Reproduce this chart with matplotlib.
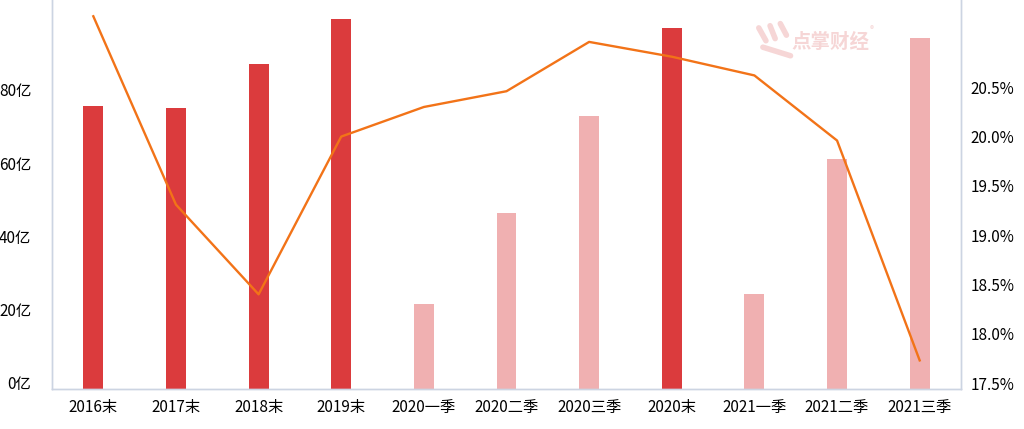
import matplotlib

matplotlib.use("Agg")
import matplotlib.pyplot as plt
from matplotlib.transforms import ScaledTranslation

plt.rcParams['font.family'] = ['Noto Sans CJK SC', 'DejaVu Sans']

categories = ['2016末', '2017末', '2018末', '2019末', '2020一季', '2020二季',
              '2020三季', '2020末', '2021一季', '2021二季', '2021三季']
amount = [77.2, 76.7, 88.7, 101.0, 23.2, 48.0, 74.5, 98.5, 25.9, 62.8, 95.8]  # 亿
is_year_end = [True, True, True, True, False, False, False, True, False, False, False]
ratio = [21.28, 19.37, 18.46, 20.06, 20.36, 20.52, 21.02, 20.87, 20.68, 20.02, 17.79]  # %

left_ticks = [0, 20, 40, 60, 80]
right_ticks = [17.5, 18.0, 18.5, 19.0, 19.5, 20.0, 20.5]

DARK = '#DB3B3D'
LIGHT = '#F0B0B1'
LINE = '#F27318'
SPINE = '#CCD4E2'
MARK = '#F6D6D6'

fig = plt.figure(figsize=(10.24, 4.29), dpi=100)
ax = fig.add_axes([52 / 1024, 40 / 429, 909 / 1024, 389 / 429])
x = list(range(len(categories)))
colors = [DARK if e else LIGHT for e in is_year_end]
ax.bar(x, amount, width=0.24, color=colors, zorder=2)
ax.set_xlim(-0.5, len(categories) - 0.5)
ax.set_ylim(0, 106.1)
ax.set_yticks(left_ticks)
ax.set_yticklabels([f'{v}亿' for v in left_ticks])
ax.set_xticks(x)
ax.set_xticklabels(categories)
ax.tick_params(axis='y', length=0, pad=15, labelsize=11)
ax.tick_params(axis='x', length=0, pad=7, labelsize=11)

ax2 = ax.twinx()
ax2.plot(x, ratio, color=LINE, linewidth=1.7, zorder=3)
ax2.set_ylim(17.5, 21.445)
ax2.set_yticks(right_ticks)
ax2.set_yticklabels([f'{v:.1f}%' for v in right_ticks])
ax2.tick_params(axis='y', length=0, pad=7, labelsize=11)

# labels sit a little above their gridline positions
shift = ScaledTranslation(0, 6 / 100, fig.dpi_scale_trans)
for lab in ax.get_yticklabels() + ax2.get_yticklabels():
    lab.set_transform(lab.get_transform() + shift)

for a in (ax, ax2):
    a.spines['top'].set_visible(False)
    for s in ('left', 'right', 'bottom'):
        a.spines[s].set_color(SPINE)
        a.spines[s].set_linewidth(1)

# watermark (hand icon roughly sketched as strokes)
for (x0, y0, x1, y1) in [(0.741, 0.935, 0.748, 0.905), (0.752, 0.94, 0.757, 0.91),
                         (0.762, 0.945, 0.768, 0.918), (0.745, 0.89, 0.772, 0.87)]:
    fig.add_artist(plt.Line2D([x0, x1], [y0, y1], transform=fig.transFigure,
                              color=MARK, linewidth=4, solid_capstyle='round', zorder=5))
fig.text(0.773, 0.90, '点掌财经', fontsize=14, fontweight='bold', color=MARK,
         ha='left', va='center', zorder=5)
fig.text(0.849, 0.93, '®', fontsize=6, color=MARK, ha='left', va='center', zorder=5)

fig.savefig('out.png', dpi=100)
plt.close(fig)
